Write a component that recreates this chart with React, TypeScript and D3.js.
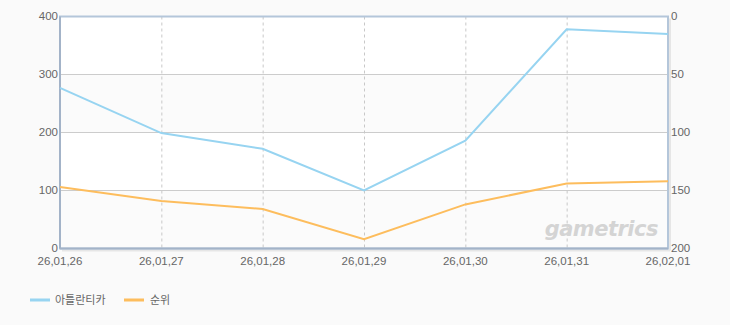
import React from "react";
import * as d3 from "d3";

const dates = ["26,01,26", "26,01,27", "26,01,28", "26,01,29", "26,01,30", "26,01,31", "26,02,01"];
const users = [277, 199, 172, 100, 186, 378, 370];
const ranks = [147, 159, 166, 192, 162, 144, 142];
const leftTicks = [0, 100, 200, 300, 400];
const rightTicks = [0, 50, 100, 150, 200];
const seriesNames = ["아틀란티카", "순위"];

const W = 730, H = 325;
const L = 60, R = 668, T = 16.5, B = 248.5;
const font = "'Noto Sans CJK KR', 'DejaVu Sans', sans-serif";
const numFont = "'Liberation Sans', Arial, sans-serif";

export default function App() {
  const x = d3.scalePoint<string>().domain(dates).range([L, R]);
  const yL = d3.scaleLinear().domain([0, 400]).range([B, T]);
  const yR = d3.scaleLinear().domain([0, 200]).range([T, B]);
  const lineU = d3.line<number>().x((_, i) => x(dates[i])!).y((d) => yL(d));
  const lineR = d3.line<number>().x((_, i) => x(dates[i])!).y((d) => yR(d));
  const bands = [0, 1, 2, 3];
  return (
    <svg width={W} height={H} style={{ position: "absolute", left: 0, top: 0, background: "#fafafa" }}>
      <rect x={0} y={0} width={W} height={H} fill="#fafafa" />
      {bands.map((b) => (
        <rect key={b} x={L} y={yL(leftTicks[b + 1])} width={R - L} height={yL(leftTicks[b]) - yL(leftTicks[b + 1])}
          fill={b % 2 === 1 ? "#ffffff" : "#fbfbfb"} />
      ))}
      {leftTicks.slice(1, -1).map((t) => (
        <line key={t} x1={L} x2={R} y1={yL(t)} y2={yL(t)} stroke="#cccccc" strokeWidth={1} />
      ))}
      {dates.slice(1, -1).map((d) => (
        <line key={d} x1={x(d)! + 0.5} x2={x(d)! + 0.5} y1={T} y2={B} stroke="#c8c8c8" strokeWidth={1} strokeDasharray="3,3" />
      ))}
      <text x={658} y={236} textAnchor="end" fontFamily="'DejaVu Sans', sans-serif" fontWeight="bold" fontStyle="italic"
        fontSize={21} fill="#d4d4d4" letterSpacing={-0.5}>gametrics</text>
      {/* shadow */}
      <line x1={L + 2} x2={R + 2} y1={B + 2} y2={B + 2} stroke="#e6e6e6" strokeWidth={2} />
      <line x1={R + 2} x2={R + 2} y1={T + 2} y2={B + 2} stroke="#e6e6e6" strokeWidth={2} />
      <rect x={L} y={T} width={R - L} height={B - T} fill="none" stroke="#b4c6da" strokeWidth={2} />
      <line x1={L} x2={L} y1={T} y2={B} stroke="#a3b3c8" strokeWidth={2} />
      <line x1={L} x2={R} y1={B} y2={B} stroke="#a3b3c8" strokeWidth={2} />
      <path d={lineU(users)!} fill="none" stroke="#97d4f1" strokeWidth={2} />
      <path d={lineR(ranks)!} fill="none" stroke="#fdbd5d" strokeWidth={2} />
      {leftTicks.map((t) => (
        <text key={t} x={L - 2} y={yL(t) + 3.5} textAnchor="end" fontFamily={numFont} fontSize={11.5} fill="#666">{t}</text>
      ))}
      {rightTicks.map((t) => (
        <text key={t} x={R + 3} y={yR(t) + 3.5} textAnchor="start" fontFamily={numFont} fontSize={11.5} fill="#666">{t}</text>
      ))}
      {dates.map((d) => (
        <text key={d} x={x(d)!} y={264.5} textAnchor="middle" fontFamily={numFont} fontSize={11.5} fill="#666">{d}</text>
      ))}
      <line x1={30} x2={50} y1={300} y2={300} stroke="#97d4f1" strokeWidth={3} />
      <text x={55} y={304} fontFamily={font} fontSize={11} fill="#666">{seriesNames[0]}</text>
      <line x1={124} x2={144} y1={300} y2={300} stroke="#fdbd5d" strokeWidth={3} />
      <text x={150} y={304} fontFamily={font} fontSize={11} fill="#666">{seriesNames[1]}</text>
    </svg>
  );
}
